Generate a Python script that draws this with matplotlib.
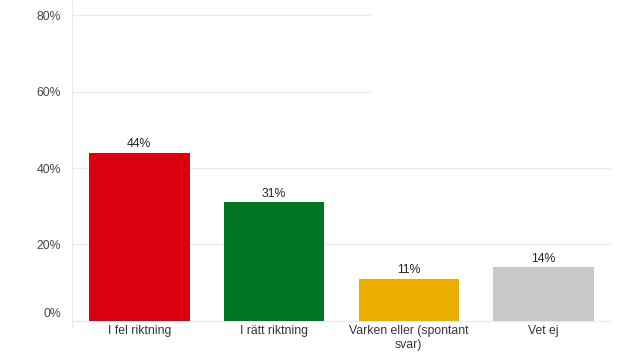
import matplotlib.pyplot as plt
import matplotlib.transforms as mtransforms
from matplotlib.ticker import FuncFormatter

plt.rcParams['font.family'] = ['Liberation Sans', 'DejaVu Sans']

categories = ["I fel riktning", "I rätt riktning", "Varken eller (spontant\nsvar)", "Vet ej"]
values = [44, 31, 11, 14]
colors = ['#da000e', '#007625', '#ebad00', '#c8c8ca']
yticks = [0, 20, 40, 60, 80]

fig = plt.figure(figsize=(6.4, 3.6), dpi=100)
ax = fig.add_axes([0.1125, 0.092, 0.842, 0.908])

# grid lines (upper two are cut short in the original)
for t in yticks:
    xmax = 0.553 if t >= 60 else 1.0
    ax.axhline(t, xmin=0, xmax=xmax, color='#ebebeb', lw=1, zorder=0)

x = range(len(categories))
bars = ax.bar(x, values, width=0.745, color=colors, zorder=2)
for xi, v in zip(x, values):
    ax.text(xi, v + 0.6, f"{v}%", ha='center', va='bottom', fontsize=8.8, color='#222222')

ax.set_xlim(-0.5, 3.5)
ax.set_ylim(-1.6, 84)
ax.set_yticks(yticks)
ax.yaxis.set_major_formatter(FuncFormatter(lambda v, p: f"{int(v)}%"))
ax.set_xticks(list(x))
ax.set_xticklabels(categories, fontsize=8.8, color='#333340', linespacing=1.25)
ax.tick_params(axis='y', length=0, pad=8, labelsize=8.8, labelcolor='#444450')
ax.tick_params(axis='x', length=0, pad=-1.5)

# the 0% label sits a bit above its line
lab0 = ax.yaxis.get_major_ticks()[0].label1
lab0.set_transform(lab0.get_transform() + mtransforms.ScaledTranslation(0, 6 / 72, fig.dpi_scale_trans))

for s in ['top', 'right', 'bottom']:
    ax.spines[s].set_visible(False)
ax.spines['left'].set_color('#ebebeb')

plt.savefig('out.png', dpi=100)
